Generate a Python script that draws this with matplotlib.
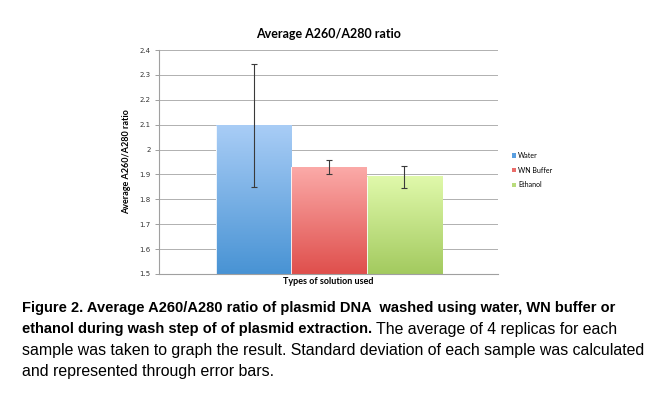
import numpy as np
import matplotlib
matplotlib.use("Agg")
import matplotlib.pyplot as plt
from matplotlib.colors import LinearSegmentedColormap
from matplotlib.patches import Patch

# data
solutions = ["Water", "WN Buffer", "Ethanol"]
ratios = [2.095, 1.930, 1.890]
std_devs = [0.247, 0.027, 0.043]

# top / bottom colours of each gradient bar
tops = ["#a9cdf6", "#fbaaa8", "#e0f9ab"]
bottoms = ["#4893d4", "#df4f4c", "#a3ca5f"]
legend_cols = ["#5a9fe0", "#ea6d6a", "#b9dc7c"]

chart_font = "Lato"
cap_font = "Liberation Sans"

fig = plt.figure(figsize=(6.59, 3.97), dpi=100)
ax = fig.add_axes([0.241, 0.310, 0.515, 0.564])

ymin, ymax = 1.5, 2.4
xs = np.arange(len(solutions))
width = 1.0

grad = np.linspace(0, 1, 256).reshape(-1, 1)
for x, val, top, bot in zip(xs, ratios, tops, bottoms):
    cmap = LinearSegmentedColormap.from_list("g", [bot, top])
    ax.imshow(grad, extent=[x - width/2, x + width/2, ymin, val], origin="lower",
              aspect="auto", cmap=cmap, zorder=2)
    ax.plot([x - width/2, x - width/2], [ymin, val], color="white", lw=0.6, zorder=2.5)

ax.errorbar(xs, ratios, yerr=std_devs, fmt="none", ecolor="#3a3a3a",
            elinewidth=0.8, capsize=2.5, capthick=0.8, zorder=3)

ax.set_xlim(-1.257, 3.243)
ax.set_ylim(ymin, ymax)
ax.set_yticks(np.arange(1.5, 2.41, 0.1))
ax.set_yticklabels(["1.5", "1.6", "1.7", "1.8", "1.9", "2", "2.1", "2.2", "2.3", "2.4"],
                   family="DejaVu Sans")
ax.set_xticks([])
ax.grid(axis="y", color="#b0b0b0", lw=0.7, zorder=0)
ax.set_axisbelow(True)
for s in ["top", "right"]:
    ax.spines[s].set_visible(False)
ax.spines["left"].set_color("#a0a0a0")
ax.spines["bottom"].set_color("#a0a0a0")
ax.tick_params(axis="y", labelsize=5, length=3, color="#a0a0a0", width=0.7, pad=3,
               labelcolor="#333333")

ax.set_title("Average A260/A280 ratio", fontsize=9, fontweight="bold",
             family=chart_font, pad=9)
ax.set_ylabel("Average A260/A280 ratio", fontsize=6.5, fontweight="bold",
              family=chart_font, labelpad=6)
ax.set_xlabel("Types of solution used", fontsize=6.5, fontweight="bold",
              family=chart_font, labelpad=2)

handles = [Patch(facecolor=c, edgecolor="none") for c in legend_cols]
fig.legend(handles, solutions, loc="upper left", bbox_to_anchor=(0.767, 0.633),
           frameon=False, prop={"family": chart_font, "size": 5}, handlelength=0.6,
           handleheight=0.6, handletextpad=0.3, labelspacing=1.1)

# caption, four lines
bold_size = 10.5
reg_size = 11.4
cap_x = 22 / 659
line_y = [1 - 301 / 397, 1 - 322 / 397, 1 - 343 / 397, 1 - 364 / 397]
fig.text(cap_x, line_y[0],
         "Figure 2. Average A260/A280 ratio of plasmid DNA  washed using water, WN buffer or",
         fontsize=bold_size, fontweight="bold", family=cap_font, va="top")
bold2 = fig.text(cap_x, line_y[1], "ethanol during wash step of of plasmid extraction.",
                 fontsize=bold_size, fontweight="bold", family=cap_font, va="top")
renderer = fig.canvas.get_renderer()
bb = bold2.get_window_extent(renderer)
fig.text(bb.x1 / fig.bbox.width + 4 / 659, line_y[1], "The average of 4 replicas for each",
         fontsize=reg_size, family=cap_font, va="top")
fig.text(cap_x, line_y[2],
         "sample was taken to graph the result. Standard deviation of each sample was calculated",
         fontsize=reg_size, family=cap_font, va="top")
fig.text(cap_x, line_y[3], "and represented through error bars.",
         fontsize=reg_size, family=cap_font, va="top")

fig.savefig("out.png", dpi=100)
